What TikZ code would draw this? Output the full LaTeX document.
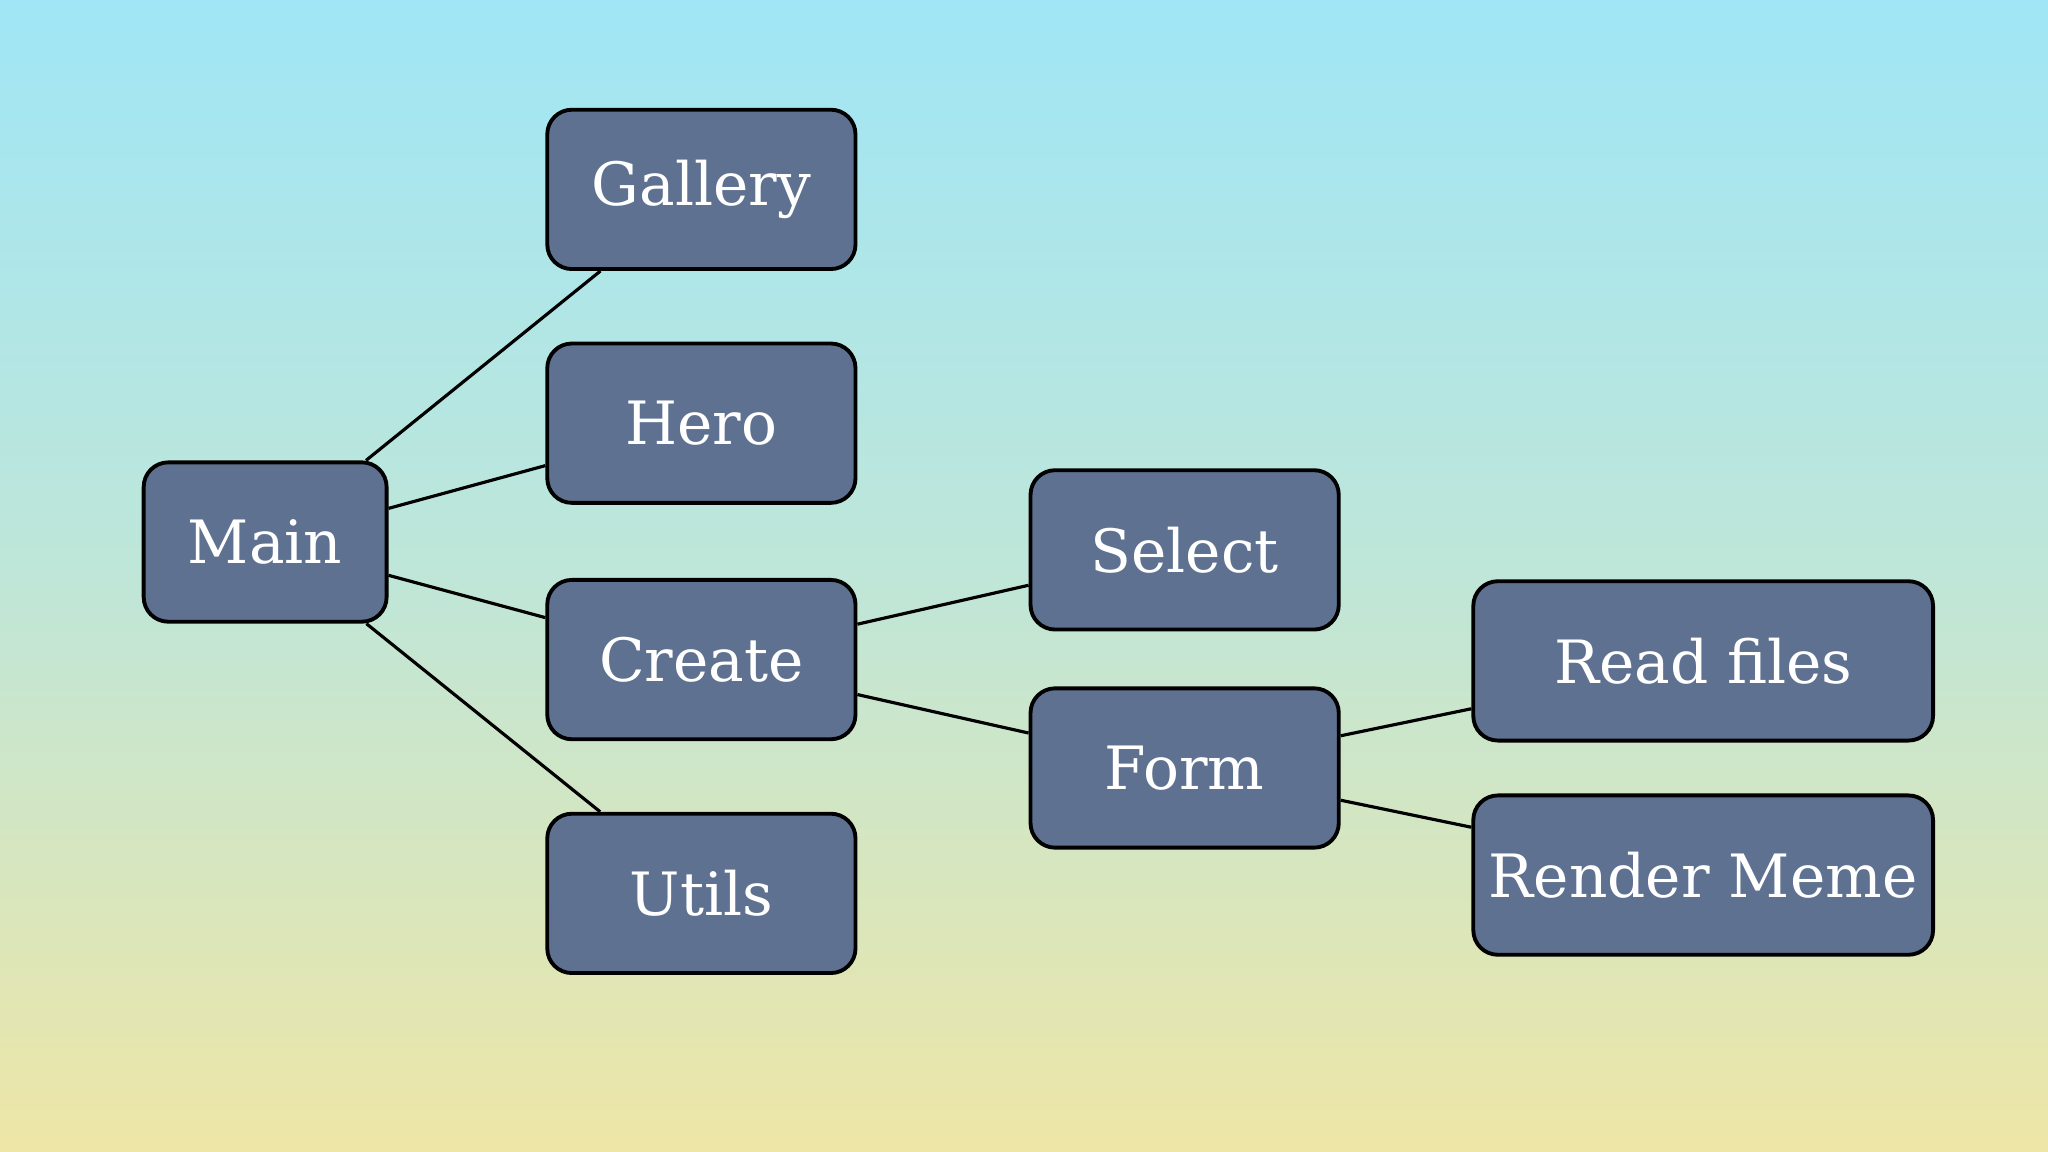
\documentclass[tikz,border=0pt]{standalone}
\usepackage{fontspec}
\setmainfont{DejaVu Serif}
\definecolor{boxfill}{HTML}{5E7190}
\definecolor{bgtop}{HTML}{A0E6F6}
\definecolor{bgmid}{HTML}{BFE6D8}
\definecolor{bgbot}{HTML}{EEE6A6}
\begin{document}
\begin{tikzpicture}[x=0.01306cm,y=-0.01306cm,
  box/.style={draw=black,line width=1.1pt,fill=boxfill,rounded corners=7pt,
    minimum height=122*0.01306cm,text=white,font=\fontsize{17}{20}\selectfont,inner sep=0pt},
  small/.style={box,minimum width=236*0.01306cm},
  wide/.style={box,minimum width=352*0.01306cm},
  link/.style={line width=0.9pt,black}]
\shade[top color=bgtop,bottom color=bgbot,middle color=bgmid] (0,0) rectangle (1568,882);
\useasboundingbox (0,0) rectangle (1568,882);
\node[box,minimum width=186*0.01306cm] (main) at (203,415) {Main};
\node[small] (gallery) at (537,145) {Gallery};
\node[small] (hero) at (537,324) {Hero};
\node[small] (create) at (537,505) {Create};
\node[small] (utils) at (537,684) {Utils};
\node[small] (select) at (907,421) {Select};
\node[small] (form) at (907,588) {Form};
\node[wide] (read) at (1304,506) {Read files};
\node[wide] (render) at (1304,670) {Render Meme};
\draw[link] (main) -- (gallery);
\draw[link] (main) -- (hero);
\draw[link] (main) -- (create);
\draw[link] (main) -- (utils);
\draw[link] (create) -- (select);
\draw[link] (create) -- (form);
\draw[link] (form) -- (read);
\draw[link] (form) -- (render);
\end{tikzpicture}
\end{document}
